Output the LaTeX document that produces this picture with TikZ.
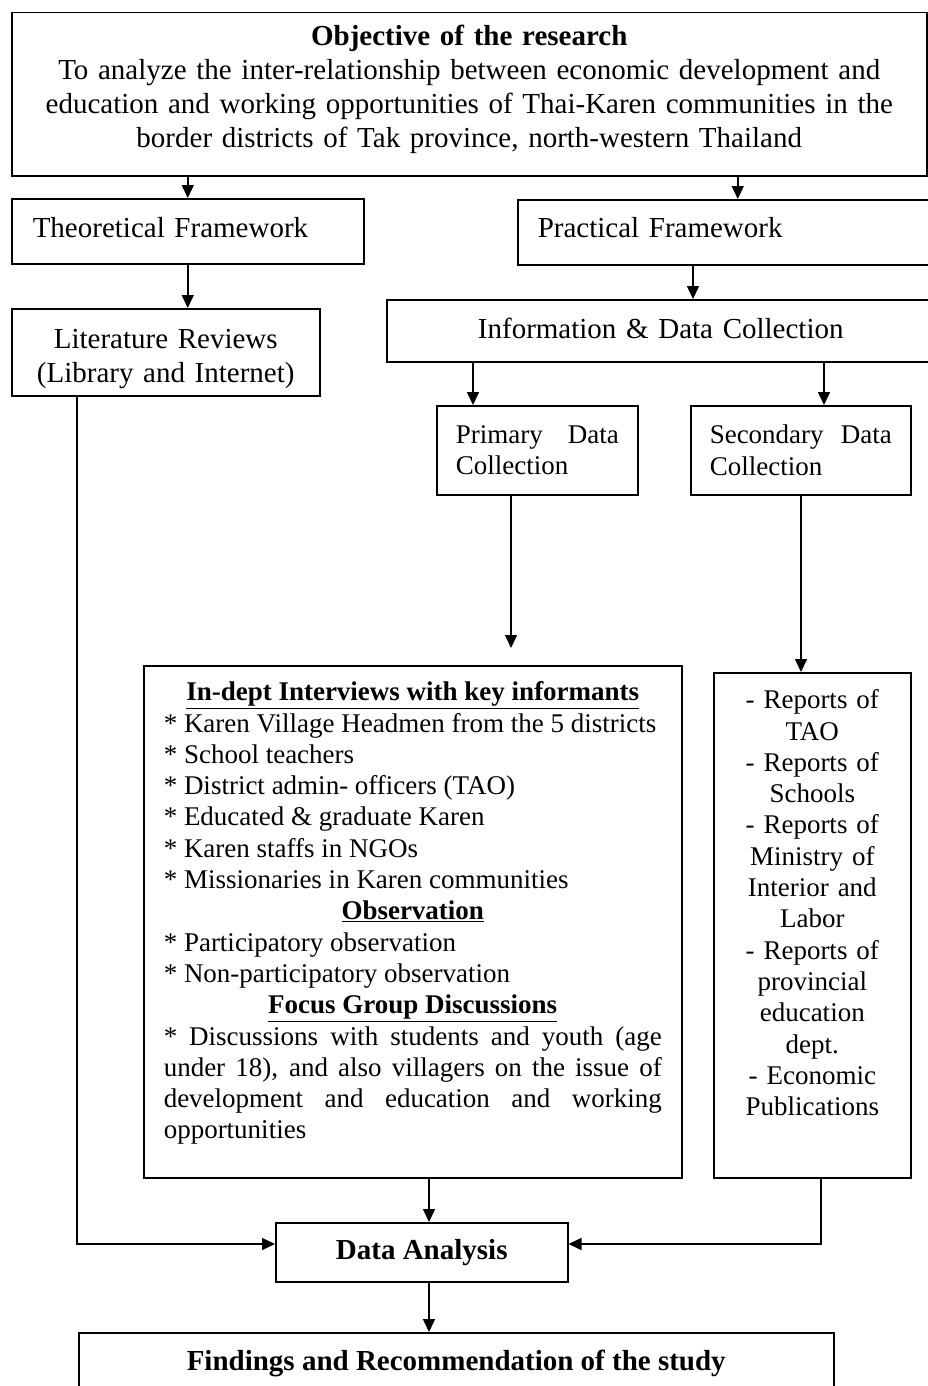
\documentclass[tikz,border=0pt]{standalone}
\usepackage{fontspec}
\setmainfont{Liberation Serif}
\usetikzlibrary{arrows.meta,calc}
\begin{document}
\begin{tikzpicture}[x=1pt,y=-1pt,
  box/.style={draw, line width=1.5pt, rectangle, anchor=north west, inner sep=0pt},
  big/.style={font=\fontsize{29}{34}\selectfont},
  small/.style={font=\fontsize{27}{31.3}\selectfont},
  arr/.style={line width=1.5pt, -{Triangle[length=13pt,width=12pt]}},
  conn/.style={line width=1.5pt}]
\useasboundingbox (0,0) rectangle (928,1386);
\fill[white] (0,0) rectangle (928,1386);
\clip (0,0) rectangle (928,1386);

\node[box, big, minimum width=915pt, text width=905pt, align=center, text height=32.4pt, text depth=130.6pt] (obj) at (11,12)
  {\textbf{Objective of the research}\\
   To analyze the inter-relationship between economic development and\\
   education and working opportunities of Thai-Karen communities in the\\
   border districts of Tak province, north-western Thailand};

\node[box, big, inner xsep=21pt, text width=310pt, align=left, text height=38.5pt, text depth=26.5pt] (theo) at (11,198)
  {Theoretical Framework};
\node[box, big, inner xsep=20pt, text width=400pt, align=left, text height=37.5pt, text depth=27.5pt] (prac) at (517,199)
  {Practical Framework};

\node[box, big, minimum width=308pt, text width=300pt, align=center, text height=39.5pt, text depth=47.5pt] (lit) at (11,308)
  {Literature Reviews\\(Library and Internet)};
\node[box, big, minimum width=548pt, text width=540pt, align=center, text height=39pt, text depth=23pt] (info) at (386,299)
  {Information \& Data Collection};

\node[box, small, minimum height=89pt, inner xsep=19pt, text width=163pt, align=left] (prim) at (436,405)
  {Primary\hfill Data\\Collection};
\node[box, small, minimum height=89pt, inner xsep=19pt, text width=182pt, align=left] (sec) at (690,405)
  {Secondary\hfill Data\\Collection};

\node[box, small, inner xsep=20pt, text width=498pt, align=justify, text height=35pt, text depth=477pt] (indept) at (143,665)
  {{\centering\underline{\textbf{In-dept Interviews with key informants}}\par}
   * Karen Village Headmen from the 5 districts\par
   * School teachers\par
   * District admin- officers (TAO)\par
   * Educated \& graduate Karen\par
   * Karen staffs in NGOs\par
   * Missionaries in Karen communities\par
   {\centering\underline{\textbf{Observation}}\par}
   * Participatory observation\par
   * Non-participatory observation\par
   {\centering\underline{\textbf{Focus Group Discussions}}\par}
   * Discussions with students and youth (age\linebreak
   under 18), and also villagers on the issue of\linebreak
   development and education and working\linebreak
   opportunities\par};

\node[box, small, minimum width=197pt, text width=190pt, align=center, text height=36pt, text depth=469pt] (reports) at (713,672)
  {- Reports of\\TAO\\- Reports of\\Schools\\- Reports of\\Ministry of\\Interior and\\Labor\\- Reports of\\provincial\\education\\dept.\\- Economic\\Publications};

\node[box, big, minimum width=292pt, minimum height=59pt] (da) at (275,1222) {\textbf{Data Analysis}};
\node[box, big, minimum width=755pt, minimum height=62pt] (find) at (78,1332) {\textbf{Findings and Recommendation of the study}};

\coordinate (xpi) at (693,0);
\coordinate (xip) at (473,0);
\coordinate (xis) at (824,0);
\coordinate (xpd) at (511,0);
\coordinate (xsr) at (801,0);
\coordinate (xl) at (77,0);
\coordinate (xr) at (821,0);
\coordinate (xd) at (429,0);
\coordinate (yda) at (0,1244);

\draw[arr] (obj.south -| theo.north) -- (theo.north);
\draw[arr] (obj.south -| prac.north) -- (prac.north);
\draw[arr] (theo.south) -- (theo.south |- lit.north);
\draw[arr] (prac.south -| xpi) -- (info.north -| xpi);
\draw[arr] (info.south -| xip) -- (prim.north -| xip);
\draw[arr] (info.south -| xis) -- (sec.north -| xis);
\draw[arr, shorten >=17pt] (prim.south -| xpd) -- (indept.north -| xpd);
\draw[arr] (sec.south -| xsr) -- (reports.north -| xsr);
\draw[arr] (lit.south -| xl) |- (da.west |- yda);
\draw[arr] (reports.south -| xr) |- (da.east |- yda);
\draw[arr] (indept.south -| xd) -- (da.north -| xd);
\draw[arr] (da.south -| xd) -- (find.north -| xd);
\end{tikzpicture}
\end{document}
